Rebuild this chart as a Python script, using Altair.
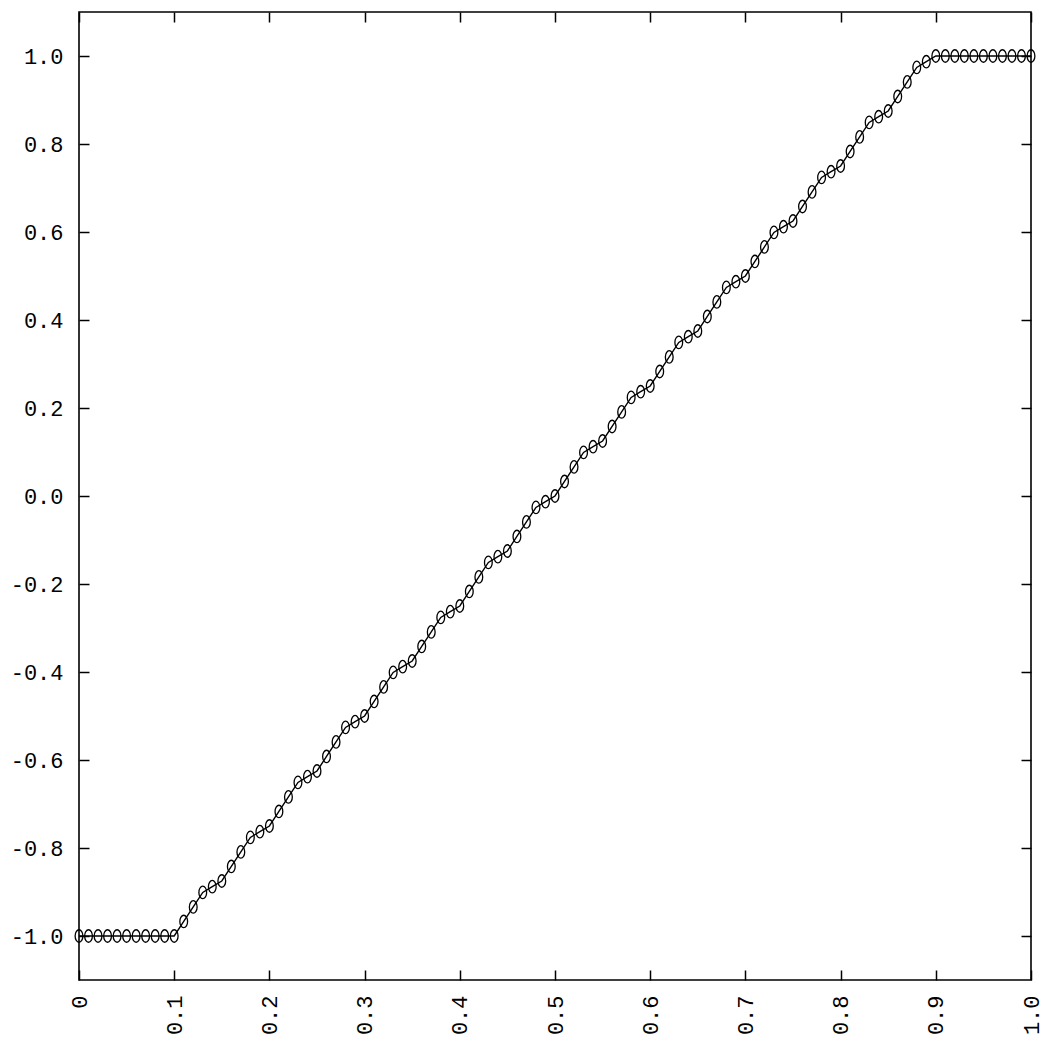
import altair as alt
import pandas as pd

x_vals = [0.00, 0.01, 0.02, 0.03, 0.04, 0.05, 0.06, 0.07, 0.08, 0.09,
          0.10, 0.11, 0.12, 0.13, 0.14, 0.15, 0.16, 0.17, 0.18, 0.19,
          0.20, 0.21, 0.22, 0.23, 0.24, 0.25, 0.26, 0.27, 0.28, 0.29,
          0.30, 0.31, 0.32, 0.33, 0.34, 0.35, 0.36, 0.37, 0.38, 0.39,
          0.40, 0.41, 0.42, 0.43, 0.44, 0.45, 0.46, 0.47, 0.48, 0.49,
          0.50, 0.51, 0.52, 0.53, 0.54, 0.55, 0.56, 0.57, 0.58, 0.59,
          0.60, 0.61, 0.62, 0.63, 0.64, 0.65, 0.66, 0.67, 0.68, 0.69,
          0.70, 0.71, 0.72, 0.73, 0.74, 0.75, 0.76, 0.77, 0.78, 0.79,
          0.80, 0.81, 0.82, 0.83, 0.84, 0.85, 0.86, 0.87, 0.88, 0.89,
          0.90, 0.91, 0.92, 0.93, 0.94, 0.95, 0.96, 0.97, 0.98, 0.99,
          1.00]

y_vals = [-1.0, -1.0, -1.0, -1.0, -1.0, -1.0, -1.0, -1.0, -1.0, -1.0,
          -1.0, -0.967, -0.934, -0.901, -0.888,
          -0.875, -0.842, -0.809, -0.776, -0.763,
          -0.750, -0.717, -0.684, -0.651, -0.638,
          -0.625, -0.592, -0.559, -0.526, -0.513,
          -0.500, -0.467, -0.434, -0.401, -0.388,
          -0.375, -0.342, -0.309, -0.276, -0.263,
          -0.250, -0.217, -0.184, -0.151, -0.138,
          -0.125, -0.092, -0.059, -0.026, -0.013,
          0.000, 0.033, 0.066, 0.099, 0.112,
          0.125, 0.158, 0.191, 0.224, 0.237,
          0.250, 0.283, 0.316, 0.349, 0.362,
          0.375, 0.408, 0.441, 0.474, 0.487,
          0.500, 0.533, 0.566, 0.599, 0.612,
          0.625, 0.658, 0.691, 0.724, 0.737,
          0.750, 0.783, 0.816, 0.849, 0.862,
          0.875, 0.908, 0.941, 0.974, 0.987,
          1.0, 1.0, 1.0, 1.0, 1.0, 1.0, 1.0, 1.0, 1.0, 1.0,
          1.0]

x_ticks = [0.0, 0.1, 0.2, 0.3, 0.4, 0.5, 0.6, 0.7, 0.8, 0.9, 1.0]
y_ticks = [-1.0, -0.8, -0.6, -0.4, -0.2, 0.0, 0.2, 0.4, 0.6, 0.8, 1.0]

df = pd.DataFrame({"x": x_vals, "y": y_vals})

xs = alt.Scale(domain=[0, 1], nice=False, zero=False)
ys = alt.Scale(domain=[-1.1, 1.1], nice=False, zero=False)

x_label_expr = "datum.value < 0.001 ? '0' : format(datum.value, '.1f')"
y_label_expr = "datum.value < -0.001 ? '-' + format(-datum.value, '.1f') : format(abs(datum.value), '.1f')"

ellipse = "M0,-1A0.62,1,0,1,1,0,1A0.62,1,0,1,1,0,-1Z"

base = alt.Chart(df)

line = base.mark_line(color="black", strokeWidth=1.4).encode(
    x=alt.X("x:Q", scale=xs, axis=alt.Axis(
        orient="bottom", values=x_ticks, offset=-10, tickSize=10, domain=False,
        grid=False, labelAngle=270, labelPadding=15, title=None,
        labelExpr=x_label_expr)),
    y=alt.Y("y:Q", scale=ys, axis=alt.Axis(
        orient="left", values=y_ticks, offset=-10, tickSize=10, domain=False,
        grid=False, labelPadding=16, title=None, labelExpr=y_label_expr)),
)

pts = base.mark_point(shape=ellipse, size=156, filled=False, color="black",
                      strokeWidth=1.3, opacity=1).encode(
    x=alt.X("x:Q", scale=xs, axis=alt.Axis(
        orient="top", values=x_ticks, offset=-10, tickSize=10, domain=False,
        grid=False, labels=False, title=None)),
    y=alt.Y("y:Q", scale=ys, axis=alt.Axis(
        orient="right", values=y_ticks, offset=-10, tickSize=10, domain=False,
        grid=False, labels=False, title=None)),
)

chart = (
    alt.layer(line, pts)
    .resolve_axis(x="independent", y="independent")
    .properties(
        width=952, height=968,
        padding={"left": 79, "top": 12, "right": 24, "bottom": 63},
        autosize=alt.AutoSizeParams(type="none"),
        background="white",
    )
    .configure_view(stroke="black", strokeWidth=1.6)
    .configure_axis(
        tickColor="black", tickWidth=1.5,
        labelFont="Liberation Mono", labelFontSize=22, labelColor="black",
    )
)

chart.save("out.html", embed_options={"renderer": "svg", "actions": False})
